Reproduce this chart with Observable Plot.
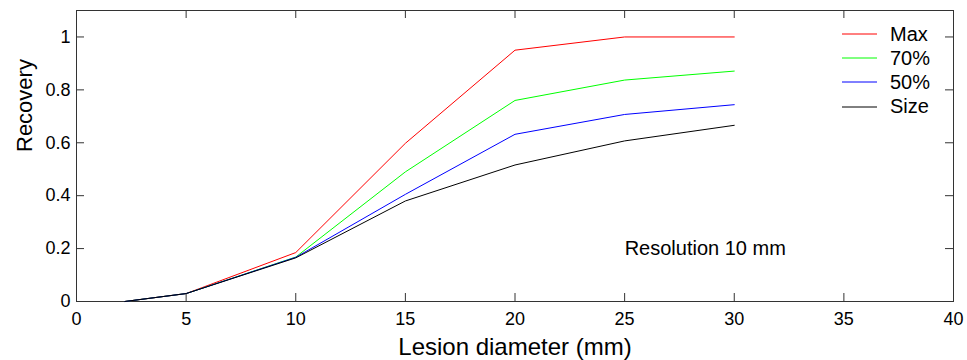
<!DOCTYPE html>
<html>
<head>
<meta charset="utf-8">
<script src="https://cdn.jsdelivr.net/npm/d3@7"></script>
<script src="https://cdn.jsdelivr.net/npm/@observablehq/plot@0.6"></script>
<style>
  html, body { margin: 0; padding: 0; background: #fff; }
  #wrap { position: relative; width: 967px; height: 360px; font-family: "Liberation Sans", Arial, sans-serif; }
  #legend { position: absolute; left: 842px; top: 22px; font-size: 20px; color: #000; }
  #legend .row { display: flex; align-items: center; height: 24.2px; }
  #legend svg { margin-right: 13px; }
</style>
</head>
<body>
<div id="wrap"><div id="legend"></div></div>
<script>
// ---- data ----
const diameters = [2.2, 5, 10, 15, 20, 25, 30];
const seriesNames = ["Max", "70%", "50%", "Size"];
const seriesColors = ["#ff0000", "#00ff00", "#0000ff", "#000000"];
const maxRec  = [0, 0.03, 0.185, 0.598, 0.95, 1.0, 1.0];
const rec70   = [0, 0.03, 0.168, 0.49, 0.76, 0.837, 0.871];
const rec50   = [0, 0.03, 0.167, 0.405, 0.632, 0.707, 0.744];
const sizeRec = [0, 0.03, 0.165, 0.38, 0.516, 0.607, 0.666];
const xTicks = [0, 5, 10, 15, 20, 25, 30, 35, 40];
const yTicks = [0, 0.2, 0.4, 0.6, 0.8, 1];
const xLabel = "Lesion diameter (mm)";
const yLabel = "Recovery";
const noteText = "Resolution 10 mm";
const noteX = 25, noteY = 0.2;

// ---- build table ----
const seriesValues = [maxRec, rec70, rec50, sizeRec];
const rows = [];
seriesNames.forEach((name, i) => {
  diameters.forEach((d, j) => rows.push({series: name, x: d, y: seriesValues[i][j]}));
});

const W = 967, H = 360;
const mL = 76, mR = 14, mT = 10, mB = 59;
const plotW = W - mL - mR, plotH = H - mT - mB;
const tickLen = 8;
const axisColor = "#333";

const chart = Plot.plot({
  width: W, height: H,
  marginLeft: mL, marginRight: mR, marginTop: mT, marginBottom: mB,
  style: {fontFamily: '"Liberation Sans", Arial, sans-serif', fontSize: "18px", color: "#000", background: "#fff"},
  x: {domain: [0, 40]},
  y: {domain: [0, 1.1]},
  color: {domain: seriesNames, range: seriesColors},
  marks: [
    Plot.frame({stroke: axisColor}),
    Plot.tickX(xTicks, {x: d => d, insetTop: plotH - tickLen, stroke: axisColor}),
    Plot.tickX(xTicks, {x: d => d, insetBottom: plotH - tickLen, stroke: axisColor}),
    Plot.tickY(yTicks, {y: d => d, insetRight: plotW - tickLen, stroke: axisColor}),
    Plot.tickY(yTicks, {y: d => d, insetLeft: plotW - tickLen, stroke: axisColor}),
    Plot.axisX({ticks: xTicks, tickSize: 0, tickPadding: 11, tickFormat: d => String(d), label: null, fontSize: 18}),
    Plot.axisY({ticks: yTicks, tickSize: 0, tickPadding: 6, tickFormat: d => String(d), label: null, fontSize: 18}),
    Plot.line(rows, {x: "x", y: "y", z: "series", stroke: "series", strokeWidth: 1}),
    Plot.text([noteText], {x: noteX, y: noteY, text: d => d, textAnchor: "start", fontSize: 20, fill: "#000"}),
    Plot.text([xLabel], {frameAnchor: "bottom", text: d => d, dy: 53, fontSize: 24, fill: "#000"}),
    Plot.text([yLabel], {frameAnchor: "left", text: d => d, rotate: -90, dx: -52, dy: -4, fontSize: 22, fill: "#000"})
  ]
});
document.getElementById("wrap").prepend(chart);

// ---- legend ----
const legend = document.getElementById("legend");
seriesNames.forEach((name, i) => {
  const row = document.createElement("div");
  row.className = "row";
  row.innerHTML = `<svg width="35" height="4"><line x1="0" y1="2" x2="35" y2="2" stroke="${seriesColors[i]}" stroke-width="1"/></svg><span>${name}</span>`;
  legend.appendChild(row);
});
</script>
</body>
</html>
